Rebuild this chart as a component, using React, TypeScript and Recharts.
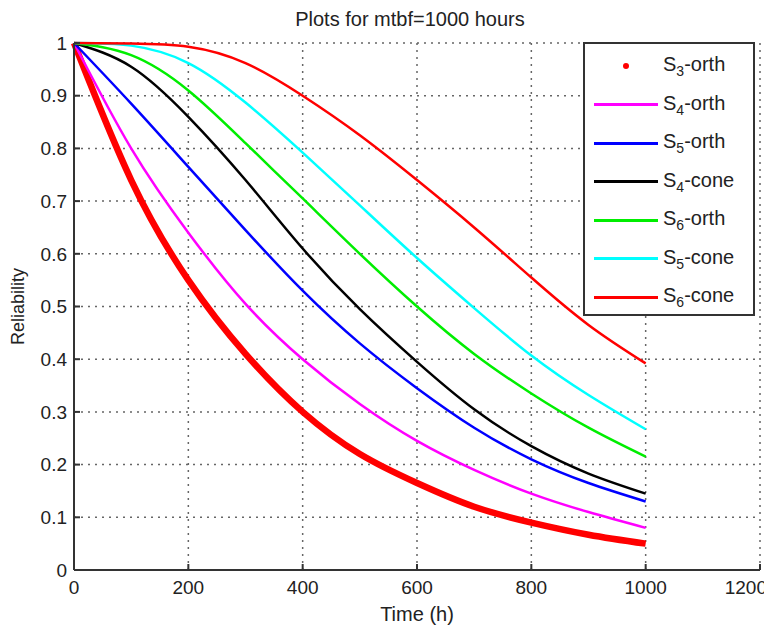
import { LineChart, Line, XAxis, YAxis, CartesianGrid } from "recharts";

const times = [0, 100, 200, 300, 400, 500, 600, 700, 800, 900, 1000];

const s3orth = [1, 0.74, 0.55, 0.41, 0.3, 0.22, 0.165, 0.12, 0.09, 0.067, 0.05];
const s4orth = [1, 0.8, 0.64, 0.505, 0.4, 0.315, 0.245, 0.19, 0.145, 0.11, 0.08];
const s5orth = [1, 0.885, 0.765, 0.645, 0.53, 0.43, 0.345, 0.27, 0.21, 0.165, 0.13];
const s4cone = [1, 0.955, 0.86, 0.74, 0.61, 0.495, 0.395, 0.305, 0.235, 0.183, 0.145];
const s6orth = [1, 0.977, 0.91, 0.81, 0.705, 0.6, 0.5, 0.41, 0.335, 0.27, 0.215];
const s5cone = [1, 0.995, 0.962, 0.887, 0.792, 0.692, 0.592, 0.497, 0.407, 0.332, 0.267];
const s6cone = [1, 0.999, 0.993, 0.962, 0.9, 0.825, 0.74, 0.65, 0.555, 0.465, 0.392];

const xTicks = [0, 200, 400, 600, 800, 1000, 1200];
const yTicks = [0, 0.1, 0.2, 0.3, 0.4, 0.5, 0.6, 0.7, 0.8, 0.9, 1];

// legend order as in the figure
const series = [
  { key: "s3orth", sub: "3", name: "orth", color: "#ff0000", width: 6.5, dot: true },
  { key: "s4orth", sub: "4", name: "orth", color: "#ff00ff", width: 2.5 },
  { key: "s5orth", sub: "5", name: "orth", color: "#0000ff", width: 2.5 },
  { key: "s4cone", sub: "4", name: "cone", color: "#000000", width: 2.5 },
  { key: "s6orth", sub: "6", name: "orth", color: "#00ee00", width: 2.5 },
  { key: "s5cone", sub: "5", name: "cone", color: "#00ffff", width: 2.5 },
  { key: "s6cone", sub: "6", name: "cone", color: "#ff0000", width: 2.5 },
];

const data = times.map((t, i) => ({
  t,
  s3orth: s3orth[i],
  s4orth: s4orth[i],
  s5orth: s5orth[i],
  s4cone: s4cone[i],
  s6orth: s6orth[i],
  s5cone: s5cone[i],
  s6cone: s6cone[i],
}));

const FONT = "'Liberation Sans', Arial, sans-serif";

// x tick label; the last one is pulled in so it stays inside the picture
function XTick(props: any) {
  const { x, y, payload } = props;
  const last = payload.value === xTicks[xTicks.length - 1];
  return (
    <text
      x={last ? x + 11 : x}
      y={y}
      dy="0.71em"
      textAnchor={last ? "end" : "middle"}
      fontSize={19}
      fill="#222"
      fontFamily={FONT}
    >
      {payload.value}
    </text>
  );
}

function LegendBox() {
  return (
    <div
      style={{
        position: "absolute",
        left: 575,
        top: 34,
        width: 172,
        height: 274,
        background: "#fff",
        border: "2px solid #333",
        fontFamily: FONT,
        boxSizing: "border-box",
      }}
    >
      {series.map((s, i) => (
        <div
          key={s.key}
          style={{
            position: "absolute",
            left: 0,
            top: 8 + i * 38.5,
            height: 28,
            width: "100%",
            display: "flex",
            alignItems: "center",
          }}
        >
          <div style={{ width: 64, marginLeft: 9, display: "flex", justifyContent: "center" }}>
            {s.dot ? (
              <div style={{ width: 6, height: 6, borderRadius: 3, background: s.color }} />
            ) : (
              <div style={{ width: 64, height: 3, background: s.color }} />
            )}
          </div>
          <span style={{ marginLeft: 5, fontSize: 20, color: "#222", whiteSpace: "nowrap" }}>
            S<sub style={{ fontSize: 14, verticalAlign: "-5px" }}>{s.sub}</sub>-{s.name}
          </span>
        </div>
      ))}
    </div>
  );
}

export default function App() {
  return (
    <div style={{ position: "relative", width: 764, height: 621, background: "#fff" }}>
      <div
        style={{
          position: "absolute",
          left: 0,
          width: 804,
          top: 0,
          textAlign: "center",
          fontFamily: FONT,
          fontSize: 20,
          color: "#222",
        }}
      >
        Plots for mtbf=1000 hours
      </div>
      <LineChart
        width={764}
        height={621}
        data={data}
        margin={{ top: 35, right: 12, bottom: 0, left: 0 }}
      >
        <CartesianGrid stroke="#666" strokeDasharray="2 5" strokeWidth={1.5} />
        <XAxis
          dataKey="t"
          type="number"
          domain={[0, 1200]}
          ticks={xTicks}
          height={59}
          tickSize={-6}
          tickMargin={17}
          tick={<XTick />}
          stroke="#333"
          strokeWidth={2}
          label={{ value: "Time (h)", position: "insideBottom", offset: 8, style: { fontSize: 20, fill: "#222", fontFamily: FONT } }}
        />
        <XAxis
          xAxisId="top"
          orientation="top"
          dataKey="t"
          type="number"
          domain={[0, 1200]}
          ticks={xTicks}
          height={0}
          tickSize={-6}
          tickFormatter={() => ""}
          stroke="#333"
          strokeWidth={2}
        />
        <YAxis
          type="number"
          domain={[0, 1]}
          ticks={yTicks}
          width={66}
          tickSize={-6}
          tickMargin={13}
          tick={{ fontSize: 19, fill: "#222", fontFamily: FONT }}
          tickFormatter={(v: number) => String(Math.round(v * 10) / 10)}
          stroke="#333"
          strokeWidth={2}
          label={{ value: "Reliability", angle: -90, position: "insideLeft", offset: 10, style: { fontSize: 18, fill: "#222", fontFamily: FONT, textAnchor: "middle" } }}
        />
        <YAxis
          yAxisId="right"
          orientation="right"
          type="number"
          domain={[0, 1]}
          ticks={yTicks}
          width={0}
          tickSize={-6}
          tickFormatter={() => ""}
          stroke="#333"
          strokeWidth={2}
        />
        {series.map((s) => (
          <Line
            key={s.key}
            type="natural"
            dataKey={s.key}
            stroke={s.color}
            strokeWidth={s.width}
            dot={false}
            isAnimationActive={false}
          />
        ))}
      </LineChart>
      <LegendBox />
    </div>
  );
}
